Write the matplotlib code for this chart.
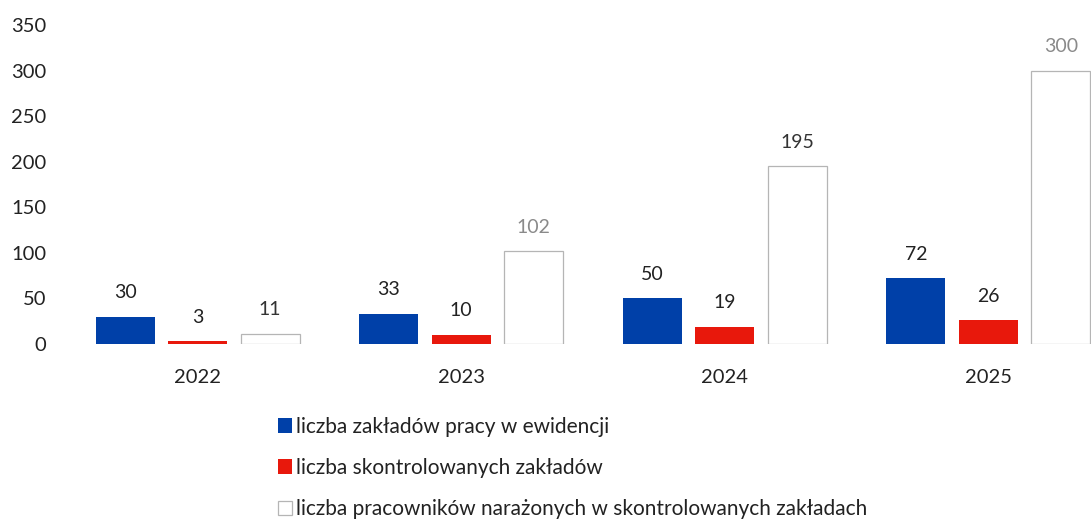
import matplotlib
matplotlib.use("Agg")
import matplotlib.pyplot as plt
import numpy as np

plt.rcParams['font.family'] = ['Lato', 'DejaVu Sans']

years = ['2022', '2023', '2024', '2025']
zaklady = [30, 33, 50, 72]
skontrolowane = [3, 10, 19, 26]
pracownicy = [11, 102, 195, 300]
labels = ['liczba zakładów pracy w ewidencji',
          'liczba skontrolowanych zakładów',
          'liczba pracowników narażonych w skontrolowanych zakładach']
prac_label_colors = ['#333333', '#8a8a8a', '#333333', '#8a8a8a']

fig = plt.figure(figsize=(10.91, 5.21), dpi=100)
ax = fig.add_axes([66/1091, (521-344)/521, 1054/1091, (344-25)/521])

x = np.arange(len(years))
w = 0.224
off = 0.275
b1 = ax.bar(x - off, zaklady, w, color='#0040A8', label=labels[0])
b2 = ax.bar(x, skontrolowane, w, color='#E8180C', label=labels[1])
b3 = ax.bar(x + off, pracownicy, w, color='white', edgecolor='#b5b5b5', linewidth=0.9, label=labels[2])

def lab(bars, vals, colors):
    for b, v, c in zip(bars, vals, colors):
        ax.annotate(str(v), (b.get_x() + b.get_width()/2, b.get_height()),
                    xytext=(0, 24), textcoords='offset pixels',
                    ha='center', va='center', fontsize=14, color=c)

lab(b1, zaklady, ['#222222']*4)
lab(b2, skontrolowane, ['#222222']*4)
lab(b3, pracownicy, prac_label_colors)

ax.set_xlim(-0.5, 3.5)
ax.set_ylim(0, 350)
ax.set_yticks(range(0, 351, 50))
ax.set_xticks(x)
ax.set_xticklabels(years)
for s in ax.spines.values():
    s.set_visible(False)
ax.tick_params(axis='both', length=0, labelsize=14.5, colors='#222222')
ax.tick_params(axis='x', pad=18)
ax.tick_params(axis='y', pad=14)
for t in ax.get_yticklabels():
    t.set_horizontalalignment('right')

fig.legend(handles=[b1, b2, b3], labels=labels, loc='upper left',
           bbox_to_anchor=(259/1091, 1 - 398/521), frameon=False,
           fontsize=15, handlelength=0.7, handleheight=0.7,
           handletextpad=0.2, labelspacing=1.02, labelcolor='#222222')

fig.savefig('out.png', dpi=100, facecolor='white')
